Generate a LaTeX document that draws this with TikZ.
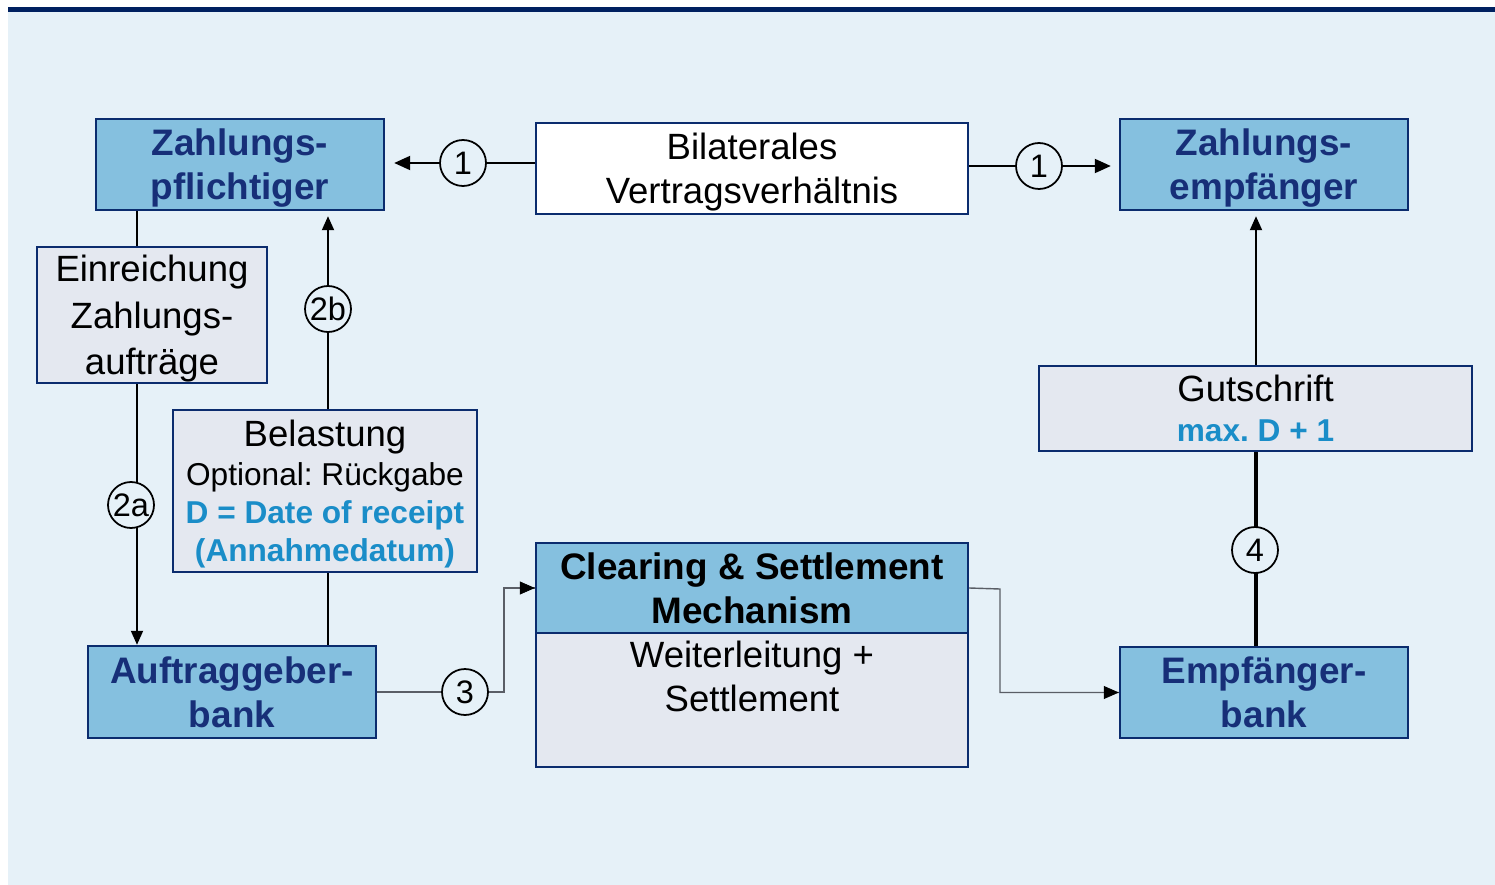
\documentclass[tikz,border=0pt]{standalone}
\usepackage{fontspec}
\setmainfont{Liberation Sans}
\usetikzlibrary{arrows.meta,calc}
\definecolor{bgc}{HTML}{E6F1F8}
\definecolor{barc}{HTML}{002060}
\definecolor{bluefill}{HTML}{85C0DF}
\definecolor{bordc}{HTML}{0B2C6E}
\definecolor{greyfill}{HTML}{E4E8F0}
\definecolor{titlec}{HTML}{172F78}
\definecolor{bluetext}{HTML}{1A8DC8}
\definecolor{greyline}{HTML}{5A5E66}
\pgfdeclarelayer{bg}
\pgfsetlayers{bg,main}
\frenchspacing
\tikzset{
  bluebox/.style={draw=bordc, line width=1.4pt, fill=bluefill, inner sep=0pt, align=center,
    font=\fontsize{21}{25}\selectfont\bfseries, text=titlec},
  greybox/.style={draw=bordc, line width=1.4pt, fill=greyfill, inner sep=0pt, align=center,
    font=\fontsize{20.8}{25}\selectfont},
  whitebox/.style={draw=bordc, line width=1.4pt, fill=white, inner sep=0pt, align=center,
    font=\fontsize{20.8}{25}\selectfont},
  numc/.style={circle, draw=black, line width=1pt, fill=bgc, minimum size=0.92cm, inner sep=0pt,
    font=\fontsize{18.5}{20}\selectfont},
  conn/.style={line width=1.1pt, black},
  thinconn/.style={line width=0.8pt, greyline},
  tip/.style={-{Triangle[length=0.32cm,width=0.28cm]}},
  smalltip/.style={-{Triangle[length=0.28cm,width=0.24cm]}},
}
\begin{document}
\begin{tikzpicture}[x=0.02cm,y=-0.02cm]
\useasboundingbox (0,0) rectangle (1495,885);
\begin{pgfonlayer}{bg}
\fill[white] (0,0) rectangle (1495,885);
\fill[bgc] (8,12) rectangle (1495,885);
\fill[barc] (8,7) rectangle (1495,12);
\end{pgfonlayer}

% boxes
\node[bluebox, minimum width=5.76cm, minimum height=1.82cm, text depth=0pt] (zp) at (240,164.5) {Zahlungs-\\pflichtiger};
\node[whitebox, minimum width=8.64cm, minimum height=1.82cm, text depth=0pt] (bil) at (752,168.5) {Bilaterales\\Vertragsverhältnis};
\node[bluebox, minimum width=5.76cm, minimum height=1.82cm, text depth=0pt] (ze) at (1264,164.5) {Zahlungs-\\empfänger};
\node[greybox, minimum width=4.6cm, minimum height=2.72cm, text depth=0pt, font=\fontsize{20.8}{26.4}\selectfont] (ein) at (152,315) {Einreichung\\Zahlungs-\\aufträge};
\node[greybox, minimum width=6.08cm, minimum height=3.24cm, text depth=0pt, font=\fontsize{18}{21.8}\selectfont] (bel) at (325,491)
  {{\fontsize{20.8}{21.8}\selectfont Belastung}\\Optional: Rückgabe\\{\color{bluetext}\bfseries D = Date of receipt}\\{\color{bluetext}\bfseries (Annahmedatum)}};
\node[greybox, minimum width=8.66cm, minimum height=1.7cm, font=\fontsize{20.8}{25}\selectfont] (gut) at (1255.5,408.5)
  {Gutschrift\\[-2pt]{\fontsize{18}{20}\selectfont\color{bluetext}\bfseries max. D + 1}};
\node[greybox, minimum width=8.64cm, minimum height=2.68cm] (csmb) at (752,700) {};
\node[anchor=north, align=center, inner sep=0pt, font=\fontsize{20.8}{25}\selectfont] (csmt) at ([yshift=-0.18cm]csmb.north) {Weiterleitung +\\Settlement};
\node[bluebox, minimum width=8.64cm, minimum height=1.8cm, text=black] (csm) at (752,588) {Clearing \& Settlement\\Mechanism};
\node[bluebox, minimum width=5.76cm, minimum height=1.84cm] (agb) at (232,692) {Auftraggeber-\\bank};
\node[bluebox, minimum width=5.76cm, minimum height=1.82cm] (eb) at (1264,692.5) {Empfänger-\\bank};

% circles
\node[numc] (c1l) at (463,163) {1};
\node[numc] (c1r) at (1039,166) {1};
\node[numc] (c2a) at (131,505) {2a};
\node[numc] (c2b) at (328,309) {2b};
\node[numc] (c3) at (465,692) {3};
\node[numc] (c4) at (1255,550) {4};

\coordinate (x2a) at (137,0);
\coordinate (x2b) at (328,0);
\coordinate (x4) at (1256,0);
\coordinate (k3) at (504,692);
\coordinate (kc) at (1000,589);

\begin{pgfonlayer}{bg}
\draw[conn, tip, shorten >=0.18cm] (bil.west |- c1l) -- (zp.east |- c1l);
\draw[conn, tip, shorten >=0.16cm] (bil.east |- c1r) -- (ze.west |- c1r);
\draw[conn, smalltip] (zp.south -| x2a) -- (agb.north -| x2a);
\draw[conn, smalltip, shorten >=0.1cm] (bel.north -| x2b) -- (zp.south -| x2b);
\draw[conn] (agb.north -| x2b) -- (bel.south -| x2b);
\draw[thinconn] (agb.east) -- (k3) |- (csm.west);
\draw[black, -{Triangle[length=0.3cm,width=0.26cm]}] ([xshift=-0.3cm]csm.west) -- (csm.west);
\draw[thinconn] (csm.east) -- (kc) |- (eb.west);
\draw[black, -{Triangle[length=0.3cm,width=0.26cm]}] ([xshift=-0.3cm]eb.west) -- (eb.west);
\draw[line width=1.8pt] (eb.north -| x4) -- (gut.south -| x4);
\draw[conn, smalltip, shorten >=0.1cm] (gut.north -| x4) -- (ze.south -| x4);
\end{pgfonlayer}
\end{tikzpicture}
\end{document}
